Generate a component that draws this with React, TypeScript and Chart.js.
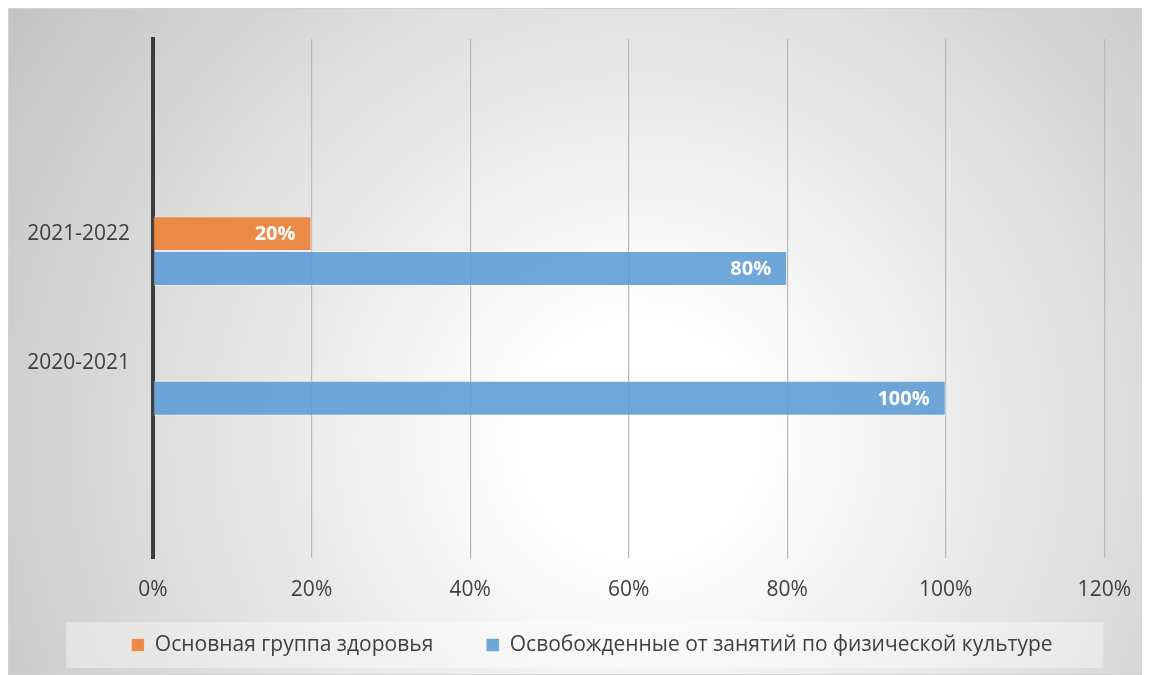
import React, { useEffect, useRef } from "react";
import { Chart, registerables } from "chart.js";

Chart.register(...registerables);

// ---- data ----
const categories: string[] = ["", "2021-2022", "2020-2021", ""];
const spacerValues: (number | null)[] = [null, null, null, null];
const mainGroupValues: (number | null)[] = [null, 20, null, null];
const exemptValues: (number | null)[] = [null, 80, 100, null];
const seriesNames: string[] = [
  "Основная группа здоровья",
  "Освобожденные от занятий по физической культуре",
];
const xMin = 0;
const xMax = 120;
const xStep = 20;

const FONT = "'Open Sans', sans-serif";
const TEXT = "#404040";
const LEGEND_SHIFT = 35.5;

const backgroundPlugin = {
  id: "bgPlugin",
  afterLayout(chart: any) {
    const lg = chart.legend;
    if (lg) {
      lg.left += LEGEND_SHIFT;
      lg.right += LEGEND_SHIFT;
    }
  },
  beforeDraw(chart: any) {
    const { ctx, width, height, chartArea } = chart;
    ctx.save();
    const cx = width * 0.553;
    const cy = height * 0.648;
    const r = Math.hypot(width, height) * 0.582;
    const g = ctx.createRadialGradient(cx, cy, 0, cx, cy, r);
    g.addColorStop(0, "#ffffff");
    g.addColorStop(0.15, "#ffffff");
    g.addColorStop(1, "#c3c3c3");
    ctx.fillStyle = g;
    ctx.fillRect(0, 0, width, height);
    ctx.strokeStyle = "#d2d2d2";
    ctx.lineWidth = 1;
    ctx.strokeRect(0.5, 0.5, width - 1, height - 1);

    // legend backdrop
    const lg = chart.legend;
    if (lg && lg.legendHitBoxes && lg.legendHitBoxes.length) {
      const hb = lg.legendHitBoxes[0];
      const cyL = hb.top + hb.height / 2;
      ctx.fillStyle = "rgba(255,255,255,0.38)";
      ctx.fillRect(chartArea.left - 87, cyL - 23, chartArea.right - 1 - (chartArea.left - 87), 46);
    }
    ctx.restore();
  },
};

const valueLabelPlugin = {
  id: "valueLabels",
  afterDatasetsDraw(chart: any) {
    const { ctx } = chart;
    ctx.save();
    ctx.font = `bold 20px ${FONT}`;
    ctx.fillStyle = "#ffffff";
    ctx.textAlign = "right";
    ctx.textBaseline = "middle";
    chart.data.datasets.forEach((ds: any, i: number) => {
      const meta = chart.getDatasetMeta(i);
      if (meta.hidden) return;
      meta.data.forEach((el: any, j: number) => {
        const v = ds.data[j];
        if (v == null || v === 0) return;
        ctx.fillText(`${v}%`, el.x - 16, el.y + 1);
      });
    });
    ctx.restore();
  },
};

export default function App() {
  const canvasRef = useRef<HTMLCanvasElement | null>(null);

  useEffect(() => {
    if (!canvasRef.current) return;
    Chart.defaults.font.family = FONT;
    const chart = new Chart(canvasRef.current, {
      type: "bar",
      data: {
        labels: categories,
        datasets: [
          {
            label: "",
            data: spacerValues,
            backgroundColor: "rgba(0,0,0,0)",
          },
          {
            label: seriesNames[0],
            data: mainGroupValues,
            backgroundColor: "rgba(237,125,49,0.88)",
            borderColor: "rgba(255,255,255,0.45)",
            borderWidth: 1,
          },
          {
            label: seriesNames[1],
            data: exemptValues,
            backgroundColor: "rgba(91,155,213,0.88)",
            borderColor: "rgba(255,255,255,0.45)",
            borderWidth: 1,
          },
        ],
      },
      options: {
        indexAxis: "y",
        responsive: false,
        animation: false,
        datasets: {
          bar: {
            categoryPercentage: 0.809,
            barPercentage: 1,
          },
        },
        layout: {
          padding: { top: 31, right: 45, bottom: 9.5, left: 0 },
        },
        scales: {
          x: {
            min: xMin,
            max: xMax,
            ticks: {
              stepSize: xStep,
              padding: 19,
              color: TEXT,
              font: { size: 21, family: FONT },
              callback: (v: any) => `${v}%`,
            },
            grid: {
              color: "#b8b8b8",
              lineWidth: 1.2,
              drawTicks: false,
            },
            border: { display: false },
            afterFit: (scale: any) => {
              scale.height = 23.5;
              scale._computeLabelArea = () => undefined;
            },
          },
          y: {
            ticks: {
              padding: 23,
              color: TEXT,
              font: { size: 21, family: FONT },
              autoSkip: false,
            },
            grid: { display: false, drawTicks: false },
            border: { display: true, color: "#3c3c3c", width: 4 },
            afterFit: (scale: any) => {
              scale.width = 145;
              scale.paddingTop = 0;
              scale.paddingBottom = 0;
            },
          },
        },
        plugins: {
          legend: {
            position: "bottom",
            labels: {
              color: TEXT,
              font: { size: 21, family: FONT },
              boxWidth: 13,
              boxHeight: 13,
              padding: 53,
              filter: (item: any) => item.text !== "",
            },
          },
          tooltip: { enabled: false },
        },
      },
      plugins: [backgroundPlugin, valueLabelPlugin],
    } as any);
    return () => chart.destroy();
  }, []);

  return (
    <canvas
      ref={canvasRef}
      width={1142}
      height={667}
      style={{ display: "block", width: 1142, height: 667 }}
    />
  );
}
